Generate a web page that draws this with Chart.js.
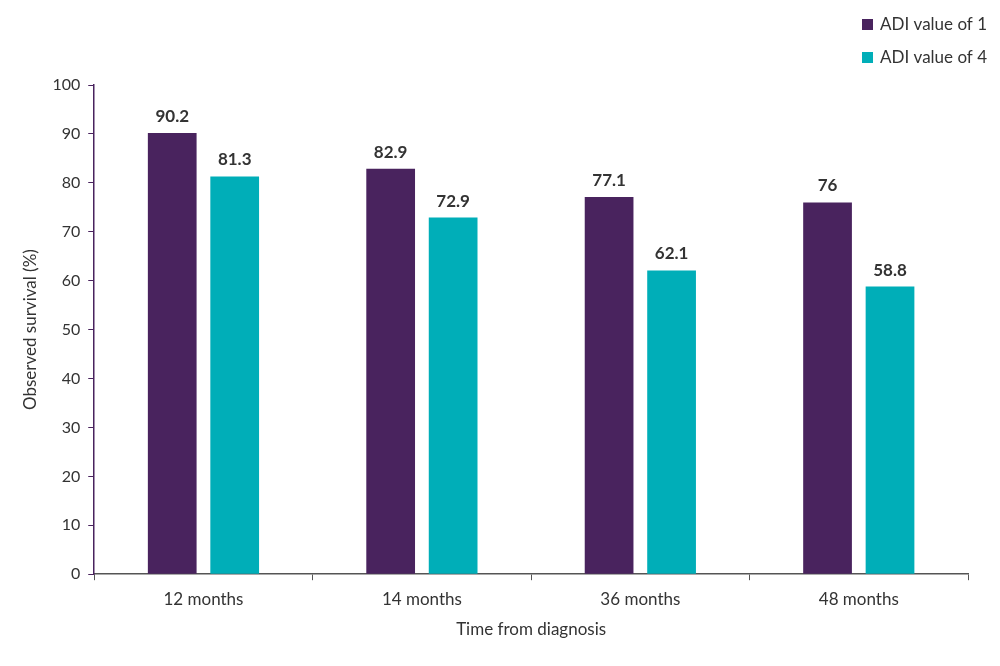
<!DOCTYPE html>
<html>
<head>
<meta charset="utf-8">
<script src="https://cdn.jsdelivr.net/npm/chart.js@4/dist/chart.umd.min.js"></script>
<style>
  html, body { margin: 0; padding: 0; background: #fff; }
  #wrap { width: 1000px; height: 666px; }
</style>
</head>
<body>
<div id="wrap"><canvas id="survival-chart"></canvas></div>
<script>
    'use strict';

    var categories = [ '12 months', '14 months', '36 months', '48 months' ];
    var adi1Values = [ 90.2, 82.9, 77.1, 76 ];
    var adi4Values = [ 81.3, 72.9, 62.1, 58.8 ];
    var seriesNames = [ 'ADI value of 1', 'ADI value of 4' ];
    var yTicks = [ 0, 10, 20, 30, 40, 50, 60, 70, 80, 90, 100 ];

    var PURPLE = '#49235e';
    var TEAL = '#00aeb8';
    var FONT = 'Lato, "Noto Sans", sans-serif';

    // value labels above each bar
    var barLabels = {
        id: 'barLabels',
        afterDatasetsDraw: function( chart ) {
            var ctx = chart.ctx;
            ctx.save();
            ctx.font = 'bold 17px ' + FONT;
            ctx.fillStyle = '#333';
            ctx.textAlign = 'center';
            ctx.textBaseline = 'bottom';
            chart.data.datasets.forEach( function( ds, i ) {
                chart.getDatasetMeta( i ).data.forEach( function( bar, j ) {
                    ctx.fillText( String( ds.data[ j ] ), bar.x, bar.y - 8 );
                } );
            } );
            ctx.restore();
        }
    };

    // stacked legend in the top right corner
    var cornerLegend = {
        id: 'cornerLegend',
        afterDraw: function( chart ) {
            var ctx = chart.ctx;
            ctx.save();
            ctx.font = '17px ' + FONT;
            ctx.textBaseline = 'middle';
            chart.data.datasets.forEach( function( ds, i ) {
                var y = 25 + i * 33;
                ctx.fillStyle = ds.backgroundColor;
                ctx.fillRect( 862, y - 6, 11, 11 );
                ctx.fillStyle = '#333';
                ctx.fillText( ds.label, 880, y );
            } );
            ctx.restore();
        }
    };

    new Chart( document.getElementById( 'survival-chart' ), {
        type: 'bar',
        data: {
            labels: categories,
            datasets: [ {
                label: seriesNames[ 0 ],
                data: adi1Values,
                backgroundColor: PURPLE,
                categoryPercentage: 0.572,
                barPercentage: 0.78
            }, {
                label: seriesNames[ 1 ],
                data: adi4Values,
                backgroundColor: TEAL,
                categoryPercentage: 0.572,
                barPercentage: 0.78
            } ]
        },
        options: {
            responsive: true,
            maintainAspectRatio: false,
            animation: false,
            layout: { padding: { top: 85, right: 32, left: 16, bottom: 22 } },
            plugins: {
                legend: { display: false },
                tooltip: { enabled: false }
            },
            scales: {
                x: {
                    grid: {
                        display: true,
                        drawOnChartArea: false,
                        offset: true,
                        tickLength: 6,
                        color: '#555'
                    },
                    border: { color: '#555', width: 1.5 },
                    ticks: { color: '#333', font: { family: FONT, size: 17 }, padding: 9 },
                    title: {
                        display: true,
                        text: 'Time from diagnosis',
                        color: '#333',
                        font: { family: FONT, size: 17 },
                        padding: { top: 1 }
                    }
                },
                y: {
                    min: 0,
                    max: 100,
                    afterBuildTicks: function( axis ) {
                        axis.ticks = yTicks.map( function( v ) { return { value: v }; } );
                    },
                    grid: {
                        display: true,
                        drawOnChartArea: false,
                        tickLength: 6,
                        color: PURPLE
                    },
                    border: { color: PURPLE, width: 1.5 },
                    ticks: { color: '#333', font: { family: FONT, size: 16 }, padding: 8 },
                    title: {
                        display: true,
                        text: 'Observed survival (%)',
                        color: '#333',
                        font: { family: FONT, size: 17 },
                        padding: { bottom: 4 }
                    }
                }
            }
        },
        plugins: [ barLabels, cornerLegend ]
    } );
</script>
</body>
</html>
